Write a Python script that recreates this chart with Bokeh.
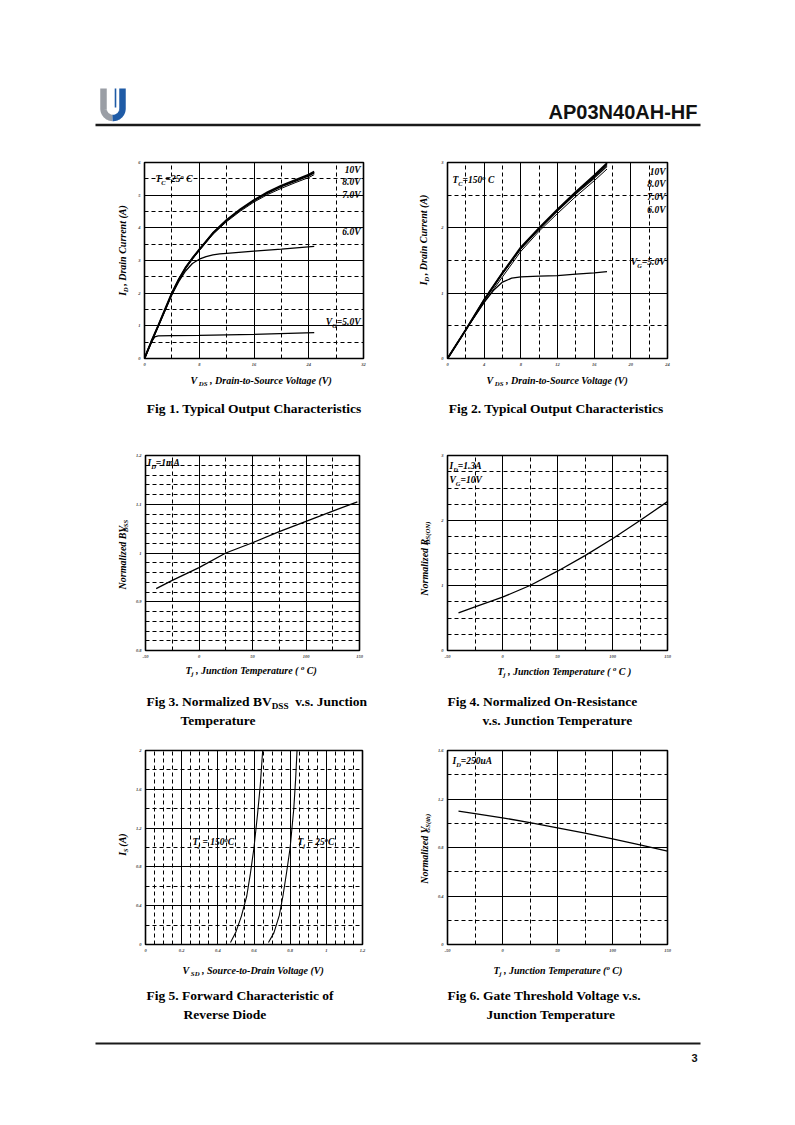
import glob, os, math
import numpy as np
from bokeh.plotting import figure
from bokeh.models import Range1d, FixedTicker, Label
from bokeh.layouts import column, row
from bokeh.embed import file_html
from bokeh.resources import INLINE

# ---------------- data ----------------
# Fig 1  (Tc = 25 C)
f1_vds_10 = [0, 1, 2, 3, 4, 5, 6, 7, 8, 10, 12, 14, 16, 18, 20, 22, 24, 24.8]
f1_id_10 = [0, 0.52, 1.0, 1.5, 2.0, 2.42, 2.78, 3.07, 3.33, 3.84, 4.24, 4.57, 4.85, 5.09, 5.29, 5.46, 5.63, 5.72]
f1_vds_8 = [0, 1, 2, 3, 4, 5, 6, 7, 8, 10, 12, 14, 16, 18, 20, 22, 24, 24.8]
f1_id_8 = [0, 0.52, 1.0, 1.5, 2.0, 2.42, 2.78, 3.07, 3.33, 3.84, 4.23, 4.55, 4.83, 5.06, 5.26, 5.42, 5.59, 5.68]
f1_vds_7 = [0, 1, 2, 3, 4, 5, 6, 7, 8, 10, 12, 14, 16, 18, 20, 22, 24, 24.8]
f1_id_7 = [0, 0.51, 0.99, 1.48, 1.97, 2.39, 2.75, 3.04, 3.3, 3.8, 4.19, 4.51, 4.79, 5.02, 5.21, 5.38, 5.54, 5.63]
f1_vds_6 = [0, 1, 2, 3, 4, 5, 6, 7, 8, 9, 10, 11, 12, 16, 20, 24.8]
f1_id_6 = [0, 0.5, 0.99, 1.47, 1.95, 2.35, 2.68, 2.91, 3.04, 3.12, 3.17, 3.2, 3.22, 3.29, 3.35, 3.43]
f1_vds_5 = [0, 0.5, 1.0, 1.5, 2.0, 4, 8, 16, 24.8]
f1_id_5 = [0, 0.26, 0.5, 0.66, 0.69, 0.7, 0.71, 0.74, 0.79]

# Fig 2  (Tc = 150 C)
f2_vds_10 = [0, 2, 4, 6, 8, 10, 12, 14, 16, 17.4]
f2_id_10 = [0, 0.44, 0.9, 1.31, 1.70, 2.0, 2.28, 2.55, 2.80, 2.99]
f2_vds_8 = [0, 2, 4, 6, 8, 10, 12, 14, 16, 17.4]
f2_id_8 = [0, 0.44, 0.9, 1.31, 1.69, 1.99, 2.27, 2.54, 2.78, 2.97]
f2_vds_7 = [0, 2, 4, 6, 8, 10, 12, 14, 16, 17.4]
f2_id_7 = [0, 0.44, 0.89, 1.30, 1.68, 1.98, 2.26, 2.52, 2.76, 2.94]
f2_vds_6 = [0, 2, 4, 6, 8, 10, 12, 14, 16, 17.4]
f2_id_6 = [0, 0.44, 0.86, 1.25, 1.64, 1.95, 2.22, 2.48, 2.72, 2.90]
f2_vds_5 = [0, 2, 4, 5, 6, 7, 8, 10, 12, 14, 16, 17.4]
f2_id_5 = [0, 0.44, 0.86, 1.04, 1.17, 1.23, 1.25, 1.26, 1.27, 1.29, 1.31, 1.33]

# Fig 3  normalized BVdss
f3_tj = [-40, -25, 0, 25, 50, 75, 100, 125, 148]
f3_bv = [0.927, 0.944, 0.970, 1.0, 1.021, 1.044, 1.065, 1.086, 1.105]

# Fig 4  normalized Rds(on)
f4_tj = [-40, -25, 0, 25, 50, 75, 100, 125, 150]
f4_r = [0.58, 0.67, 0.82, 1.0, 1.22, 1.46, 1.72, 2.0, 2.29]

# Fig 5  body diode
f5_v150 = [0.47, 0.50, 0.53, 0.56, 0.58, 0.60, 0.62, 0.635, 0.648]
f5_i150 = [0.02, 0.13, 0.29, 0.50, 0.73, 1.0, 1.35, 1.65, 2.0]
f5_v25 = [0.68, 0.71, 0.74, 0.76, 0.78, 0.80, 0.82, 0.83, 0.838]
f5_i25 = [0.02, 0.12, 0.30, 0.50, 0.74, 1.0, 1.4, 1.7, 2.0]

# Fig 6  normalized Vgs(th)
f6_tj = [-40, -25, 0, 25, 50, 75, 100, 125, 150]
f6_v = [1.1, 1.08, 1.045, 1.005, 0.962, 0.918, 0.872, 0.822, 0.77]

# ticks
f1_xt = [0, 8, 16, 24, 32]
f1_xl = ["0", "8", "16", "24", "32"]
f1_xm = [4, 12, 20, 28]
f1_yt = [0, 1, 2, 3, 4, 5, 6]
f1_yl = ["0", "1", "2", "3", "4", "5", "6"]
f1_ym = [0.5, 1.5, 2.5, 3.5, 4.5, 5.5]

f2_xt = [0, 4, 8, 12, 16, 20, 24]
f2_xl = ["0", "4", "8", "12", "16", "20", "24"]
f2_xm = [2, 6, 10, 14, 18, 22]
f2_yt = [0, 1, 2, 3]
f2_yl = ["0", "1", "2", "3"]
f2_ym = [0.5, 1.5, 2.5]

tj_xt = [-50, 0, 50, 100, 150]
tj_xl = ["-50", "0", "50", "100", "150"]
tj_xm = [-25, 25, 75, 125]

f3_yt = [0.8, 0.9, 1.0, 1.1, 1.2]
f3_yl = ["0.8", "0.9", "1", "1.1", "1.2"]
f3_ym = [0.82, 0.84, 0.86, 0.88, 0.92, 0.94, 0.96, 0.98, 1.02, 1.04, 1.06, 1.08, 1.12, 1.14, 1.16, 1.18]

f4_yt = [0, 1, 2, 3]
f4_yl = ["0", "1", "2", "3"]
f4_ym = [0.25, 0.5, 0.75, 1.25, 1.5, 1.75, 2.25, 2.5, 2.75]

f5_xt = [0, 0.2, 0.4, 0.6, 0.8, 1.0, 1.2]
f5_xl = ["0", "0.2", "0.4", "0.6", "0.8", "1", "1.2"]
f5_xm = [0.05, 0.1, 0.15, 0.25, 0.3, 0.35, 0.45, 0.5, 0.55, 0.65, 0.7, 0.75,
         0.85, 0.9, 0.95, 1.05, 1.1, 1.15]
f5_yt = [0, 0.4, 0.8, 1.2, 1.6, 2.0]
f5_yl = ["0", "0.4", "0.8", "1.2", "1.6", "2"]
f5_ym = [0.2, 0.6, 1.0, 1.4, 1.8]

f6_yt = [0, 0.4, 0.8, 1.2, 1.6]
f6_yl = ["0", "0.4", "0.8", "1.2", "1.6"]
f6_ym = [0.2, 0.6, 1.0, 1.4]

# ---------------- text helpers ----------------
_font_cache = {}
FONT_FILES = {
    ("Liberation Serif", "bold italic"): "LiberationSerif-BoldItalic.ttf",
    ("Liberation Serif", "bold"): "LiberationSerif-Bold.ttf",
    ("Liberation Sans", "bold"): "LiberationSans-Bold.ttf",
}


def _font(family, style):
    key = (family, style)
    if key in _font_cache:
        return _font_cache[key]
    f = None
    try:
        from PIL import ImageFont
        name = FONT_FILES.get(key)
        if name:
            for d in ["/usr/share/fonts", "/usr/local/share/fonts", os.path.expanduser("~/.fonts")]:
                hits = glob.glob(os.path.join(d, "**", name), recursive=True)
                if hits:
                    f = ImageFont.truetype(hits[0], 100)
                    break
    except Exception:
        f = None
    _font_cache[key] = f
    return f


def tw(s, size, family, style):
    if not s:
        return 0.0
    f = _font(family, style)
    if f is None:
        return 0.5 * size * len(s)
    return f.getlength(s) * size / 100.0


SUB = 0.68
BASE_FIX = 0.35  # observed downward drift of the alphabetic baseline, in font sizes


def runs(p, X, Y, parts, size, style="bold italic", family="Liberation Serif",
         rotated=False, align="left", frame=None, color="black"):
    """Rich text (normal 'n' / subscript 'b' / superscript 'p' runs) at page
    coordinate X, Y (baseline).  frame=(left, bottom) -> screen units inside a
    chart frame; otherwise the figure's data space is page space (y negated)."""
    sizes = [size if k == "n" else size * SUB for _, k in parts]
    widths = [tw(t, s, family, style) for (t, _), s in zip(parts, sizes)]
    total = sum(widths)
    pos = {"left": 0.0, "center": -total / 2.0, "right": -total}[align]
    for (t, k), s, w in zip(parts, sizes, widths):
        core = t.strip(" ")
        lead = len(t) - len(t.lstrip(" "))
        lead_w = tw(" " * lead, s, family, style)
        off = {"n": 0.0, "b": -0.22 * size, "p": 0.40 * size}[k]
        if core:
            if rotated:
                px, py, ang = X - off - BASE_FIX * s, Y - (pos + lead_w), math.pi / 2
            else:
                px, py, ang = X + pos + lead_w, Y - off - BASE_FIX * s, 0.0
            if frame is not None:
                kw = dict(x=px - frame[0], y=frame[1] - py, x_units="screen", y_units="screen")
            else:
                kw = dict(x=px, y=-py)
            p.add_layout(Label(text=core, angle=ang, text_align="left", text_baseline="alphabetic",
                               text_font=family, text_font_size=f"{s:.2f}px",
                               text_font_style=style, text_color=color, **kw))
        pos += w


def strip(x0, x1, y0, y1):
    """A plain figure whose data space is page pixels (y negated)."""
    p = figure(width=x1 - x0, height=y1 - y0, x_range=Range1d(x0, x1), y_range=Range1d(-y1, -y0),
               output_backend="svg", toolbar_location=None, x_axis_type=None, y_axis_type=None,
               min_border=0, title=None)
    p.outline_line_color = None
    p.background_fill_color = "white"
    p.border_fill_color = "white"
    return p


def chart(width, height, bl, br, bt, bb, xr, yr, xt, xl, xm, yt, yl, ym):
    p = figure(width=width, height=height, x_range=Range1d(*xr), y_range=Range1d(*yr),
               output_backend="svg", toolbar_location=None, title=None,
               min_border_left=bl, min_border_right=br, min_border_top=bt, min_border_bottom=bb)
    p.background_fill_color = "white"
    p.border_fill_color = "white"
    p.outline_line_color = "black"
    p.outline_line_width = 1.6
    p.xaxis.ticker = FixedTicker(ticks=xt, minor_ticks=xm)
    p.yaxis.ticker = FixedTicker(ticks=yt, minor_ticks=ym)
    p.xaxis.major_label_overrides = dict(zip(xt, xl))
    p.yaxis.major_label_overrides = dict(zip(yt, yl))
    for ax in (p.xaxis[0], p.yaxis[0]):
        ax.axis_line_color = None
        ax.major_tick_out = 0
        ax.major_tick_in = 0
        ax.minor_tick_out = 0
        ax.minor_tick_in = 0
        ax.major_label_text_font = "Liberation Serif"
        ax.major_label_text_font_style = "bold italic"
        ax.major_label_text_font_size = "4.5px"
        ax.major_label_standoff = 4
    p.xgrid.ticker = FixedTicker(ticks=xt, minor_ticks=xm)
    p.ygrid.ticker = FixedTicker(ticks=yt, minor_ticks=ym)
    for g in (p.xgrid[0], p.ygrid[0]):
        g.grid_line_color = "black"
        g.grid_line_width = 1
        g.minor_grid_line_color = "black"
        g.minor_grid_line_width = 1
        g.minor_grid_line_dash = "4 3"
    return p


def caption(p, X, Y, parts, align="left"):
    runs(p, X, Y, parts, 13.5, style="bold", align=align)


W = 787

# ---------------- header (page y 0..150) ----------------
hdr = strip(0, W, 0, 150)
th = np.linspace(0, math.pi, 30)
cx, cy, r = 112.5, 108.0, 9.5
hdr.line(x=[cx - r, cx - r] + list(cx - r * np.cos(th[:15])),
         y=[-88, -cy] + list(-(cy + r * np.sin(th[:15]))),
         line_width=6.5, line_color="#9a9ea5")
hdr.line(x=list(cx - r * np.cos(th[14:])) + [cx + r, cx + r],
         y=list(-(cy + r * np.sin(th[14:]))) + [-cy, -88],
         line_width=6.5, line_color="#1f5ba6")
hdr.line(x=[cx + 2.5, cx + 2.5], y=[-88, -107], line_width=1.6, line_color="#1f5ba6")
hdr.segment(x0=[95], y0=[-124.5], x1=[700], y1=[-124.5], line_width=2.5, line_color="#1a1a1a")
runs(hdr, 697, 118, [("AP03N40AH-HF", "n")], 20, style="bold", family="Liberation Sans",
     align="right", color="#111111")

# ---------------- row 1 band (page y 150..372) ----------------
p1 = chart(245, 222, 14, 12, 12, 13, (0, 32), (0, 6), f1_xt, f1_xl, f1_xm, f1_yt, f1_yl, f1_ym)
p1.line(f1_vds_5, f1_id_5, line_color="black", line_width=1.3)
p1.line(f1_vds_6, f1_id_6, line_color="black", line_width=1.3)
p1.line(f1_vds_7, f1_id_7, line_color="black", line_width=1.0)
p1.line(f1_vds_8, f1_id_8, line_color="black", line_width=1.4)
p1.line(f1_vds_10, f1_id_10, line_color="black", line_width=2.0)
g1 = (144, 359)
runs(p1, 155, 183, [("T", "n"), ("C", "b"), ("=25", "n"), ("o", "p"), (" C", "n")], 9.5, frame=g1)
runs(p1, 360, 174, [("10V", "n")], 9.5, align="right", frame=g1)
runs(p1, 360, 186, [("8.0V", "n")], 9.5, align="right", frame=g1)
runs(p1, 360, 199, [("7.0V", "n")], 9.5, align="right", frame=g1)
runs(p1, 360, 236, [("6.0V", "n")], 9.5, align="right", frame=g1)
runs(p1, 360, 326, [("V", "n"), ("G", "b"), ("=5.0V", "n")], 9.5, align="right", frame=g1)

p2 = chart(247, 222, 14, 13, 12, 14, (0, 24), (0, 3), f2_xt, f2_xl, f2_xm, f2_yt, f2_yl, f2_ym)
p2.line(f2_vds_5, f2_id_5, line_color="black", line_width=1.3)
p2.line(f2_vds_6, f2_id_6, line_color="black", line_width=1.0)
p2.line(f2_vds_7, f2_id_7, line_color="black", line_width=1.2)
p2.line(f2_vds_8, f2_id_8, line_color="black", line_width=1.4)
p2.line(f2_vds_10, f2_id_10, line_color="black", line_width=2.0)
g2 = (447, 358)
runs(p2, 452, 183, [("T", "n"), ("C", "b"), ("=150", "n"), ("o", "p"), (" C", "n")], 9.5, frame=g2)
runs(p2, 665, 175, [("10V", "n")], 9.5, align="right", frame=g2)
runs(p2, 665, 187, [("8.0V", "n")], 9.5, align="right", frame=g2)
runs(p2, 665, 200, [("7.0V", "n")], 9.5, align="right", frame=g2)
runs(p2, 665, 213, [("6.0V", "n")], 9.5, align="right", frame=g2)
runs(p2, 665, 265, [("V", "n"), ("G", "b"), ("=5.0V", "n")], 9.5, align="right", frame=g2)

s1a = strip(0, 130, 150, 372)
runs(s1a, 125, 255, [("I", "n"), ("D", "b"), (" , Drain Current (A)", "n")], 10, rotated=True, align="center")
s1b = strip(375, 433, 150, 372)
runs(s1b, 426, 243, [("I", "n"), ("D", "b"), (" , Drain Current (A)", "n")], 10, rotated=True, align="center")
s1c = strip(680, W, 150, 372)
band1 = row(s1a, p1, s1b, p2, s1c)

# ---------------- mid 1 (page y 372..445) ----------------
m1 = strip(0, W, 372, 445)
runs(m1, 190, 383, [("V", "n"), (" DS", "b"), (" , Drain-to-Source Voltage (V)", "n")], 10)
runs(m1, 486, 383, [("V", "n"), (" DS", "b"), (" , Drain-to-Source Voltage (V)", "n")], 10)
caption(m1, 253.5, 413, [("Fig 1. Typical Output Characteristics", "n")], align="center")
caption(m1, 555.5, 413, [("Fig 2. Typical Output Characteristics", "n")], align="center")

# ---------------- row 2 band (page y 445..662) ----------------
p3 = chart(245, 217, 15, 16, 10, 11, (-50, 150), (0.8, 1.2), tj_xt, tj_xl, tj_xm, f3_yt, f3_yl, f3_ym)
p3.line(f3_tj, f3_bv, line_color="black", line_width=1.3)
g3 = (145, 651)
runs(p3, 147, 467, [("I", "n"), ("D", "b"), ("=1mA", "n")], 9.5, frame=g3)

p4 = chart(247, 217, 14, 13, 10, 12, (-50, 150), (0, 3), tj_xt, tj_xl, tj_xm, f4_yt, f4_yl, f4_ym)
p4.line(f4_tj, f4_r, line_color="black", line_width=1.3)
g4 = (447, 650)
runs(p4, 449, 469, [("I", "n"), ("D", "b"), ("=1.3A", "n")], 9.5, frame=g4)
runs(p4, 449, 483, [("V", "n"), ("G", "b"), ("=10V", "n")], 9.5, frame=g4)

s2a = strip(0, 130, 445, 662)
runs(s2a, 125, 556, [("Normalized BV", "n"), ("DSS", "b")], 10, rotated=True, align="center")
s2b = strip(375, 433, 445, 662)
runs(s2b, 427, 561, [("Normalized R", "n"), ("DS(ON)", "b")], 10, rotated=True, align="center")
s2c = strip(680, W, 445, 662)
band2 = row(s2a, p3, s2b, p4, s2c)

# ---------------- mid 2 (page y 662..740) ----------------
m2 = strip(0, W, 662, 740)
runs(m2, 185, 673, [("T", "n"), ("j", "b"), (" , Junction Temperature ( ", "n"), ("o", "p"), (" C)", "n")], 10)
runs(m2, 497, 674, [("T", "n"), ("j", "b"), (" , Junction Temperature ( ", "n"), ("o", "p"), (" C )", "n")], 10)
caption(m2, 146, 706, [("Fig 3. Normalized BV", "n"), ("DSS", "b"), ("  v.s. Junction", "n")])
caption(m2, 180, 725, [("Temperature", "n")])
caption(m2, 447, 706, [("Fig 4. Normalized On-Resistance", "n")])
caption(m2, 482, 725, [("v.s. Junction Temperature", "n")])

# ---------------- row 3 band (page y 740..957) ----------------
p5 = chart(245, 217, 15, 13, 10, 13, (0, 1.2), (0, 2), f5_xt, f5_xl, f5_xm, f5_yt, f5_yl, f5_ym)
p5.line(f5_v150, f5_i150, line_color="black", line_width=1.1)
p5.line(f5_v25, f5_i25, line_color="black", line_width=1.1)
g5 = (145, 944)
runs(p5, 192, 845, [("T", "n"), ("j", "b"), (" = 150", "n"), ("o", "p"), ("C", "n")], 9.5, frame=g5)
runs(p5, 297, 845, [("T", "n"), ("j", "b"), (" = 25", "n"), ("o", "p"), ("C", "n")], 9.5, frame=g5)

p6 = chart(247, 217, 14, 13, 10, 13, (-50, 150), (0, 1.6), tj_xt, tj_xl, tj_xm, f6_yt, f6_yl, f6_ym)
p6.line(f6_tj, f6_v, line_color="black", line_width=1.3)
g6 = (447, 944)
runs(p6, 452, 764, [("I", "n"), ("D", "b"), ("=250uA", "n")], 9.5, frame=g6)

s3a = strip(0, 130, 740, 957)
runs(s3a, 125, 846, [("I", "n"), ("S", "b"), (" (A)", "n")], 10, rotated=True, align="center")
s3b = strip(375, 433, 740, 957)
runs(s3b, 427, 851, [("Normalized V", "n"), ("GS(th)", "b")], 10, rotated=True, align="center")
s3c = strip(680, W, 740, 957)
band3 = row(s3a, p5, s3b, p6, s3c)

# ---------------- footer (page y 957..1075) ----------------
ftr = strip(0, W, 957, 1075)
runs(ftr, 182, 973, [("V", "n"), (" SD", "b"), (" , Source-to-Drain Voltage (V)", "n")], 10)
runs(ftr, 493, 973, [("T", "n"), ("j", "b"), (" , Junction Temperature (", "n"), ("o", "p"), (" C)", "n")], 10)
caption(ftr, 146, 1000, [("Fig 5. Forward Characteristic of", "n")])
caption(ftr, 183, 1019, [("Reverse Diode", "n")])
caption(ftr, 447, 1000, [("Fig 6. Gate Threshold Voltage v.s.", "n")])
caption(ftr, 486, 1019, [("Junction Temperature", "n")])
ftr.segment(x0=[95], y0=[-1043], x1=[700], y1=[-1043], line_width=2.2, line_color="#1a1a1a")
runs(ftr, 697, 1061, [("3", "n")], 11, style="bold", family="Liberation Sans", align="right",
     color="#111111")

layout = column(hdr, band1, m1, band2, m2, band3, ftr)
open("out.html", "w").write(file_html(layout, INLINE))
